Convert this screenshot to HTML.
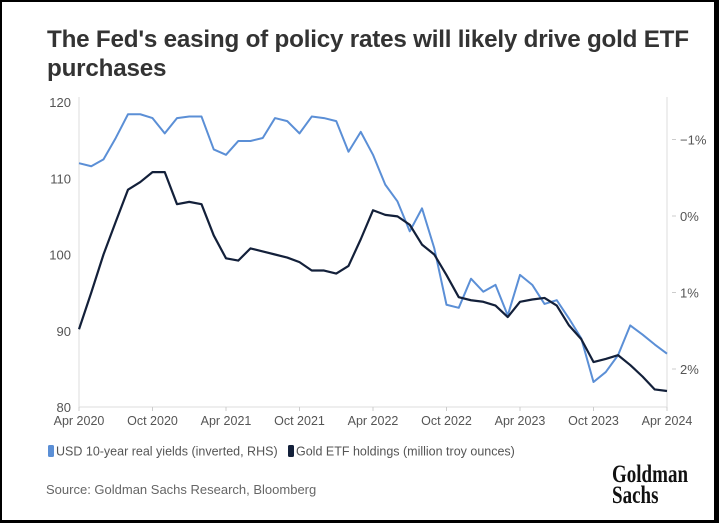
<!DOCTYPE html>
<html><head><meta charset="utf-8"><style>
html,body{margin:0;padding:0;background:#fff}
#frame{position:absolute;left:0;top:0;width:719px;height:523px;box-sizing:border-box;border-style:solid;border-color:#000;border-width:2px 5px 3px 2px;overflow:hidden;font-family:"Liberation Sans",sans-serif}
#title{position:absolute;left:45px;top:23px;font-size:24.2px;font-weight:bold;color:#333;line-height:29px;letter-spacing:-0.2px}
#src{position:absolute;left:44px;top:480px;font-size:13px;color:#666}
#logo{position:absolute;left:610px;top:462px;font-family:"Liberation Serif",serif;font-weight:bold;font-size:25px;line-height:21px;color:#111;transform:scaleX(0.76);transform-origin:left top}
</style></head><body>
<div id="frame">
<div id="title">The Fed's easing of policy rates will likely drive gold ETF<br>purchases</div>
<svg id="chart" width="719" height="523" style="position:absolute;left:-2px;top:-2px"></svg>
<div id="src">Source: Goldman Sachs Research, Bloomberg</div>
<div id="logo">Goldman<br>Sachs</div>
</div>
<script>
const months = Array.from({length:49},(_,i)=>i);
const xTickLabels = ["Apr 2020","Oct 2020","Apr 2021","Oct 2021","Apr 2022","Oct 2022","Apr 2023","Oct 2023","Apr 2024"];
const leftTicks = [80,90,100,110,120];
const rightTicks = [-1,0,1,2];
const goldHoldings = [90.2,95,100,104.3,108.5,109.5,110.8,110.8,106.6,106.9,106.6,102.5,99.5,99.2,100.8,100.4,100,99.6,99,97.9,97.9,97.5,98.5,102,105.8,105.2,105,103.9,101.3,100,97.3,94.4,94,93.8,93.3,91.8,93.8,94.1,94.3,93.3,90.7,88.9,85.9,86.3,86.8,85.5,84,82.3,82.1];
const realYields = [-0.69,-0.65,-0.74,-1.02,-1.33,-1.33,-1.28,-1.08,-1.28,-1.3,-1.3,-0.87,-0.8,-0.98,-0.98,-1.02,-1.28,-1.24,-1.08,-1.3,-1.28,-1.24,-0.84,-1.1,-0.8,-0.41,-0.19,0.2,-0.1,0.42,1.16,1.2,0.82,0.99,0.9,1.3,0.77,0.9,1.15,1.1,1.34,1.6,2.17,2.04,1.82,1.43,1.55,1.68,1.8];

const NS="http://www.w3.org/2000/svg";
const svg=document.getElementById('chart');
const X0=79,X1=667,YT=102,YB=407;
const xs=m=>X0+(X1-X0)*m/48;
const yl=v=>YB-(v-80)/40*(YB-YT);
const yr=r=>216+76.5*r;
function mk(t,a){const e=document.createElementNS(NS,t);for(const k in a)e.setAttribute(k,a[k]);svg.appendChild(e);return e;}

let ax=mk('line',{x1:X0,y1:YT-5,x2:X0,y2:YB,stroke:'#ddd','stroke-width':1});


let ax2=mk('line',{x1:X1,y1:YT-5,x2:X1,y2:YB,stroke:'#ddd','stroke-width':1});


let ax3=mk('line',{x1:X0,y1:YB,x2:X1,y2:YB,stroke:'#ddd','stroke-width':1});



leftTicks.forEach(v=>{
  const t=mk('text',{x:X0-8,y:yl(v)+5,'text-anchor':'end','font-size':13,fill:'#555','font-family':'Liberation Sans, sans-serif'});
  t.textContent=v;
  
  
});
rightTicks.forEach(v=>{
  const tk=mk('line',{x1:X1+5,x2:X1+9,y1:yr(v),y2:yr(v),stroke:'#ccc'});
  
  
  const t=mk('text',{x:X1+13,y:yr(v)+5,'font-size':13,fill:'#555','font-family':'Liberation Sans, sans-serif'});
  t.textContent=(v<0?'\u2212':'')+Math.abs(v)+'%';
  
  
});
xTickLabels.forEach((s,i)=>{
  const x=xs(i*6);
  const tk=mk('line',{x1:x,x2:x,y1:YB,y2:YB+4,stroke:'#ccc'});
  
  
  const t=mk('text',{x:x,y:YB+18,'text-anchor':'middle','font-size':12.5,fill:'#555','font-family':'Liberation Sans, sans-serif'});
  t.textContent=s;
  
  
});
const pb=mk('polyline',{points:months.map(m=>xs(m)+','+yr(realYields[m])).join(' '),fill:'none',stroke:'#5b8fd6','stroke-width':2,'stroke-linejoin':'round'});


const pg=mk('polyline',{points:months.map(m=>xs(m)+','+yl(goldHoldings[m])).join(' '),fill:'none',stroke:'#13203a','stroke-width':2.2,'stroke-linejoin':'round'});



const legend=[["USD 10-year real yields (inverted, RHS)","#5b8fd6",48],["Gold ETF holdings (million troy ounces)","#13203a",288]];
legend.forEach(([s,c,x])=>{
  const r=mk('rect',{x:x,y:445,width:6,height:12,rx:1.5,fill:c});
  
  
  const t=mk('text',{x:x+8,y:455.5,'font-size':12.5,fill:'#555','font-family':'Liberation Sans, sans-serif'});
  t.textContent=s;
  
  
});
</script>
</body></html>
